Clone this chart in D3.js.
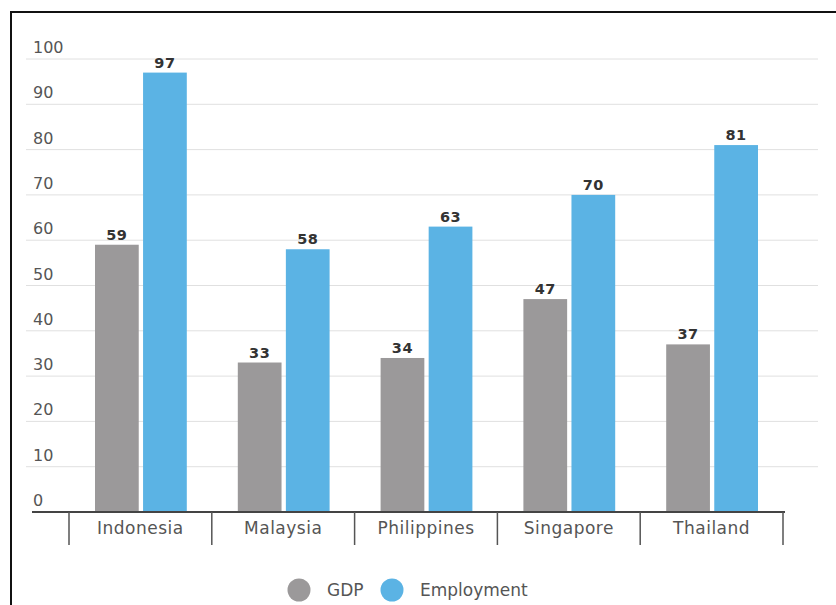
<!DOCTYPE html>
<html>
<head>
<meta charset="utf-8">
<script src="https://cdn.jsdelivr.net/npm/d3@7"></script>
<style>
  body { margin: 0; background: #fff; }
  text { font-family: "DejaVu Sans", "Noto Sans", sans-serif; }
</style>
</head>
<body>
<div class="graph-goes-here"></div>
<script>
var countries = ["Indonesia", "Malaysia", "Philippines", "Singapore", "Thailand"];
var gdpValues = [59, 33, 34, 47, 37];
var employmentValues = [97, 58, 63, 70, 81];
var seriesNames = ["GDP", "Employment"];
var seriesColors = ["#9b999a", "#5bb3e4"];
var yTicks = [0, 10, 20, 30, 40, 50, 60, 70, 80, 90, 100];

var svg = d3.select(".graph-goes-here")
    .append("svg")
    .attr("width", 836)
    .attr("height", 605);

// outer frame
svg.append("rect")
    .attr("x", 11).attr("y", 12)
    .attr("width", 840).attr("height", 620)
    .attr("fill", "none")
    .attr("stroke", "#111")
    .attr("stroke-width", 2);

var yScale = d3.scaleLinear().domain([0, 100]).range([512, 59]);
var xScale = d3.scaleBand().domain(countries).range([69, 783]).paddingInner(0).paddingOuter(0);
var xInner = d3.scaleBand().domain(seriesNames).range([26, xScale.bandwidth() - 25]).paddingInner(0.09);

// gridlines + y labels
var grid = svg.append("g");
yTicks.forEach(function (t) {
    if (t > 0) {
        grid.append("line")
            .attr("x1", 26).attr("x2", 818)
            .attr("y1", yScale(t)).attr("y2", yScale(t))
            .attr("stroke", "#e0e0e0")
            .attr("stroke-width", 1);
    }
    grid.append("text")
        .attr("x", 33)
        .attr("y", yScale(t) - 6)
        .attr("fill", "#555")
        .style("font-size", "16px")
        .text(t);
});

// bars
var data = countries.map(function (c, i) {
    return { country: c, values: [gdpValues[i], employmentValues[i]] };
});

var groups = svg.selectAll(".group")
    .data(data)
    .enter()
    .append("g")
    .attr("transform", function (d) { return "translate(" + xScale(d.country) + ",0)"; });

groups.selectAll("rect")
    .data(function (d) { return d.values.map(function (v, j) { return { name: seriesNames[j], value: v, idx: j }; }); })
    .enter()
    .append("rect")
    .attr("x", function (d) { return xInner(d.name); })
    .attr("y", function (d) { return yScale(d.value); })
    .attr("width", xInner.bandwidth())
    .attr("height", function (d) { return yScale(0) - yScale(d.value); })
    .attr("fill", function (d) { return seriesColors[d.idx]; });

groups.selectAll(".val")
    .data(function (d) { return d.values.map(function (v, j) { return { name: seriesNames[j], value: v }; }); })
    .enter()
    .append("text")
    .attr("x", function (d) { return xInner(d.name) + xInner.bandwidth() / 2; })
    .attr("y", function (d) { return yScale(d.value) - 5; })
    .attr("text-anchor", "middle")
    .attr("fill", "#333")
    .style("font-size", "14.5px")
    .style("font-weight", "bold")
    .style("letter-spacing", "0.5px")
    .text(function (d) { return d.value; });

// x axis baseline + separators
svg.append("line")
    .attr("x1", 32).attr("x2", 785)
    .attr("y1", yScale(0)).attr("y2", yScale(0))
    .attr("stroke", "#444")
    .attr("stroke-width", 2);

var seps = countries.map(function (c) { return xScale(c); }).concat([xScale.range()[1]]);
svg.selectAll(".sep")
    .data(seps)
    .enter()
    .append("line")
    .attr("x1", function (d) { return d; }).attr("x2", function (d) { return d; })
    .attr("y1", yScale(0)).attr("y2", 545)
    .attr("stroke", "#555")
    .attr("stroke-width", 1.5);

svg.selectAll(".cat")
    .data(countries)
    .enter()
    .append("text")
    .attr("x", function (d) { return xScale(d) + xScale.bandwidth() / 2; })
    .attr("y", 534)
    .attr("text-anchor", "middle")
    .attr("fill", "#555")
    .style("font-size", "17px")
    .style("letter-spacing", "0.5px")
    .text(function (d) { return d; });

// legend
var legendX = [299, 392];
seriesNames.forEach(function (name, i) {
    svg.append("circle")
        .attr("cx", legendX[i]).attr("cy", 590)
        .attr("r", 11.5)
        .attr("fill", seriesColors[i]);
    svg.append("text")
        .attr("x", legendX[i] + 28)
        .attr("y", 596)
        .attr("fill", "#555")
        .style("font-size", "17px")
        .text(name);
});
</script>
</body>
</html>
